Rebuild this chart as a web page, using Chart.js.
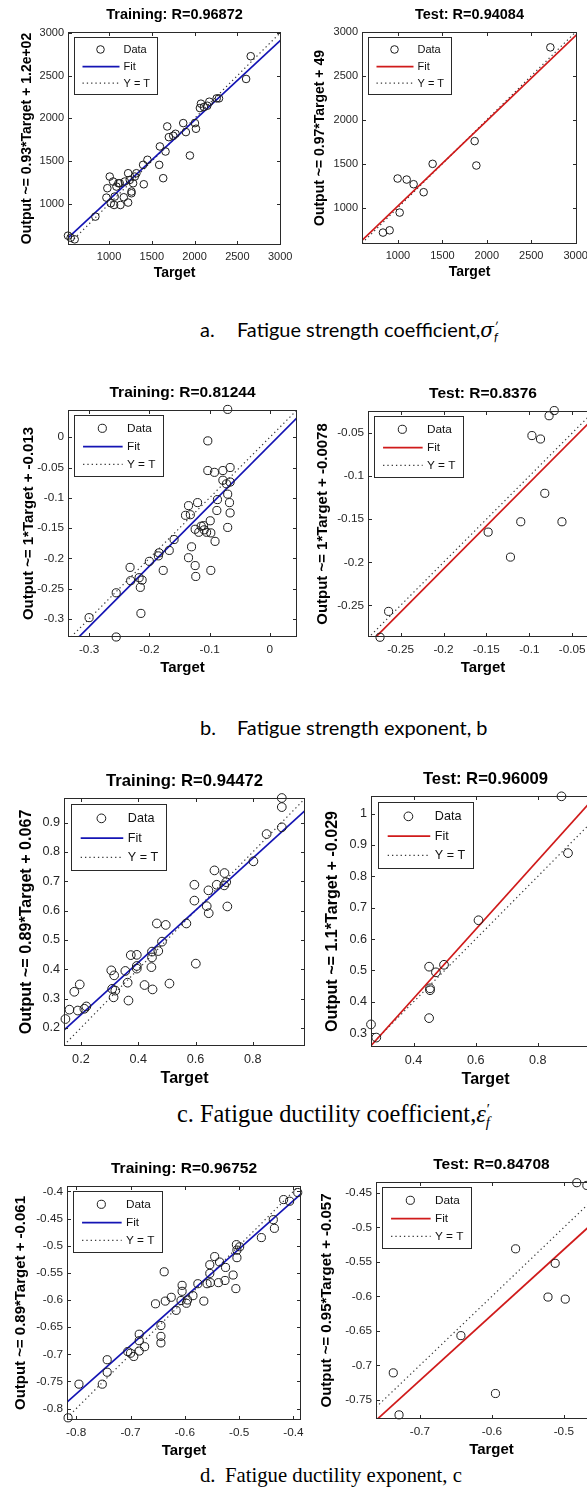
<!DOCTYPE html>
<html>
<head>
<meta charset="utf-8">
<title>Regression plots</title>
<script src="https://cdn.jsdelivr.net/npm/chart.js@4.4.1/dist/chart.umd.min.js"></script>
<style>
  html, body { margin: 0; padding: 0; background: #fff; }
  #page { position: relative; width: 587px; height: 1495px; overflow: hidden; background: #fff; }
  #page canvas { position: absolute; }
  .cap { position: absolute; white-space: nowrap; color: #000; line-height: 1; }
  .sans { font-family: Lato, "Open Sans", sans-serif; font-size: 20px; }
  .serif { font-family: "Liberation Serif", "DejaVu Serif", serif; font-size: 21px; }
  .sans .sym { font-family: "DejaVu Serif", "Liberation Serif", serif; font-style: italic; }
  .serif .sym { font-family: "Liberation Serif", serif; font-style: italic; }
  .ss { display: inline-block; vertical-align: -0.35em; font-size: 0.62em; line-height: 0.85; font-style: italic; }
  .ss span { display: block; }
</style>
</head>
<body>
<div id="page"></div>
<script>
// ---- data ----
// a. fatigue strength coefficient
const aTrainTarget = [520, 551, 598, 840, 1008, 980, 969, 1020, 1059, 1047, 1086, 1109, 1066, 1133, 1172, 1125, 1184, 1223, 1242, 1262, 1262, 1223, 1281, 1301, 1320, 1406, 1398, 1449, 1586, 1594, 1633, 1660, 1680, 1699, 1750, 1867, 1898, 1945, 2004, 2016, 2074, 2109, 2148, 2172, 2258, 2285, 2602, 2656, 2062, 1777];
const aTrainOutput = [629, 605, 586, 852, 1320, 1184, 1074, 1008, 988, 1262, 1203, 1242, 1086, 988, 1078, 1242, 1262, 1359, 1281, 1145, 1125, 1016, 1242, 1320, 1359, 1230, 1457, 1516, 1457, 1672, 1301, 1613, 1906, 1781, 1797, 1945, 1840, 1566, 1945, 1879, 2172, 2133, 2148, 2195, 2234, 2234, 2461, 2727, 2121, 1820];
const aTestTarget = [831, 906, 1019, 996, 1098, 1176, 1289, 1390, 1863, 1882, 2715];
const aTestOutput = [715, 741, 943, 1331, 1319, 1266, 1175, 1498, 1757, 1479, 2825];

// b. fatigue strength exponent
const bTrainTarget = [-0.070, -0.103, -0.103, -0.092, -0.078, -0.066, -0.078, -0.072, -0.066, -0.087, -0.070, -0.067, -0.066, -0.070, -0.088, -0.120, -0.135, -0.140, -0.132, -0.124, -0.114, -0.109, -0.105, -0.099, -0.098, -0.091, -0.098, -0.130, -0.135, -0.124, -0.123, -0.159, -0.167, -0.184, -0.185, -0.177, -0.200, -0.232, -0.231, -0.217, -0.215, -0.212, -0.255, -0.214, -0.300, -0.255, -0.118, -0.110];
const bTrainOutput = [0.046, -0.006, -0.055, -0.058, -0.055, -0.050, -0.071, -0.077, -0.074, -0.103, -0.094, -0.108, -0.125, -0.149, -0.121, -0.108, -0.113, -0.129, -0.128, -0.152, -0.147, -0.153, -0.157, -0.138, -0.158, -0.172, -0.220, -0.181, -0.199, -0.212, -0.230, -0.169, -0.187, -0.191, -0.196, -0.220, -0.205, -0.215, -0.237, -0.232, -0.248, -0.236, -0.257, -0.291, -0.298, -0.330, -0.157, -0.146];
const bTestTarget = [-0.274, -0.264, -0.148, -0.122, -0.110, -0.097, -0.087, -0.082, -0.077, -0.071, -0.062];
const bTestOutput = [-0.287, -0.257, -0.165, -0.194, -0.153, -0.053, -0.057, -0.120, -0.030, -0.024, -0.153];

// c. fatigue ductility coefficient
const cTrainTarget = [0.901, 0.901, 0.901, 0.848, 0.802, 0.666, 0.701, 0.674, 0.700, 0.707, 0.645, 0.711, 0.639, 0.646, 0.596, 0.596, 0.568, 0.601, 0.465, 0.496, 0.483, 0.470, 0.448, 0.448, 0.446, 0.450, 0.422, 0.509, 0.395, 0.374, 0.395, 0.395, 0.355, 0.366, 0.363, 0.316, 0.306, 0.320, 0.314, 0.309, 0.196, 0.177, 0.160, 0.189, 0.212, 0.219, 0.146];
const cTrainOutput = [0.984, 0.953, 0.884, 0.861, 0.768, 0.737, 0.728, 0.688, 0.686, 0.697, 0.669, 0.614, 0.615, 0.591, 0.688, 0.634, 0.556, 0.419, 0.556, 0.551, 0.494, 0.462, 0.460, 0.440, 0.407, 0.331, 0.346, 0.351, 0.449, 0.448, 0.411, 0.402, 0.394, 0.293, 0.354, 0.379, 0.396, 0.327, 0.304, 0.333, 0.348, 0.323, 0.262, 0.259, 0.265, 0.273, 0.230];
const cTestTarget = [0.876, 0.897, 0.609, 0.450, 0.472, 0.498, 0.453, 0.453, 0.450, 0.263, 0.280];
const cTestOutput = [1.055, 0.874, 0.660, 0.512, 0.494, 0.518, 0.443, 0.437, 0.348, 0.328, 0.286];

// d. fatigue ductility exponent
const dTrainTarget = [-0.392, -0.418, -0.407, -0.437, -0.435, -0.459, -0.505, -0.499, -0.504, -0.504, -0.506, -0.511, -0.526, -0.525, -0.536, -0.545, -0.538, -0.554, -0.554, -0.559, -0.553, -0.576, -0.565, -0.585, -0.595, -0.605, -0.605, -0.607, -0.597, -0.616, -0.625, -0.636, -0.638, -0.654, -0.644, -0.644, -0.644, -0.674, -0.684, -0.684, -0.684, -0.694, -0.700, -0.705, -0.743, -0.743, -0.752, -0.795, -0.815];
const dTrainOutput = [-0.402, -0.415, -0.418, -0.452, -0.468, -0.485, -0.498, -0.502, -0.508, -0.522, -0.579, -0.554, -0.564, -0.540, -0.530, -0.520, -0.568, -0.535, -0.551, -0.570, -0.568, -0.570, -0.602, -0.592, -0.600, -0.573, -0.584, -0.601, -0.606, -0.619, -0.595, -0.602, -0.548, -0.607, -0.647, -0.667, -0.679, -0.686, -0.663, -0.675, -0.694, -0.704, -0.698, -0.695, -0.710, -0.733, -0.755, -0.755, -0.817];
const dTestTarget = [-0.737, -0.729, -0.643, -0.595, -0.567, -0.522, -0.512, -0.498, -0.482, -0.468];
const dTestOutput = [-0.711, -0.772, -0.657, -0.741, -0.531, -0.601, -0.552, -0.604, -0.435, -0.439];

// fit lines: [slope, intercept]
const aTrainFit = [0.93, 120], aTestFit = [0.97, 49];
const bTrainFit = [1, -0.013], bTestFit = [1, -0.0078];
const cTrainFit = [0.89, 0.067], cTestFit = [1.1, -0.029];
const dTrainFit = [0.89, -0.061], dTestFit = [0.95, -0.057];

// axis limits [min, max]
const aTrainXLim = [520, 3010], aTrainYLim = [520, 3010];
const aTestXLim = [595, 3015], aTestYLim = [585, 3000];
const bTrainXLim = [-0.335, 0.045], bTrainYLim = [-0.33, 0.045];
const bTestXLim = [-0.288, -0.02], bTestYLim = [-0.2867, -0.0245];
const cTrainXLim = [0.141, 0.982], cTrainYLim = [0.138, 0.984];
const cTestXLim = [0.263, 1.0], cTestYLim = [0.256, 1.056];
const dTrainXLim = [-0.817, -0.386], dTrainYLim = [-0.821, -0.39];
const dTestXLim = [-0.761, -0.44], dTestYLim = [-0.778, -0.434];

// tick values
const aTicks = [1000, 1500, 2000, 2500, 3000];
const bTrainXTicks = [-0.3, -0.2, -0.1, 0];
const bTrainYTicks = [-0.3, -0.25, -0.2, -0.15, -0.1, -0.05, 0];
const bTestTicks = [-0.25, -0.2, -0.15, -0.1, -0.05];
const cTrainXTicks = [0.2, 0.4, 0.6, 0.8];
const cTrainYTicks = [0.2, 0.3, 0.4, 0.5, 0.6, 0.7, 0.8, 0.9];
const cTestXTicks = [0.4, 0.6, 0.8];
const cTestYTicks = [0.3, 0.4, 0.5, 0.6, 0.7, 0.8, 0.9, 1];
const dTrainXTicks = [-0.8, -0.7, -0.6, -0.5, -0.4];
const dTrainYTicks = [-0.8, -0.75, -0.7, -0.65, -0.6, -0.55, -0.5, -0.45, -0.4];
const dTestXTicks = [-0.7, -0.6, -0.5];
const dTestYTicks = [-0.75, -0.7, -0.65, -0.6, -0.55, -0.5, -0.45];

// ---- drawing ----
const FONT = '"Liberation Sans", Arial, sans-serif';
const BLUE = '#1414b4';
const RED = '#d01a1a';
Chart.defaults.font.family = FONT;

const page = document.getElementById('page');
const fmt = v => String(+Number(v).toFixed(4));

// MATLAB-ish box, inward ticks and legend inside the axes
const matlabAxes = {
  id: 'matlabAxes',
  afterDraw(chart, args, o) {
    const { ctx, chartArea: a, scales: { x, y } } = chart;
    const f = o.f;
    ctx.save();
    ctx.strokeStyle = '#2a2a2a';
    ctx.lineWidth = 1;
    const L = Math.round(a.left) + 0.5, R = Math.round(a.right) - 0.5;
    const T = Math.round(a.top) + 0.5, B = Math.round(a.bottom) - 0.5;
    ctx.strokeRect(L, T, R - L, B - T);
    const tl = 3.5;
    ctx.beginPath();
    x.ticks.forEach(t => {
      const px = Math.round(x.getPixelForValue(t.value)) + 0.5;
      ctx.moveTo(px, B); ctx.lineTo(px, B - tl);
      ctx.moveTo(px, T); ctx.lineTo(px, T + tl);
    });
    y.ticks.forEach(t => {
      const py = Math.round(y.getPixelForValue(t.value)) + 0.5;
      ctx.moveTo(L, py); ctx.lineTo(L + tl, py);
      ctx.moveTo(R, py); ctx.lineTo(R - tl, py);
    });
    ctx.stroke();

    // legend
    const lx = Math.round(a.left + 6 * f) + 0.5, ly = Math.round(a.top + 5 * f) + 0.5;
    const lw = Math.round(83 * f), lh = Math.round(57 * f);
    ctx.fillStyle = '#fff';
    ctx.fillRect(lx, ly, lw, lh);
    ctx.strokeStyle = '#2a2a2a';
    ctx.strokeRect(lx, ly, lw, lh);
    const rows = [0.21, 0.51, 0.8];
    ctx.font = `${(11 * f).toFixed(1)}px ${FONT}`;
    ctx.textBaseline = 'middle';
    ctx.textAlign = 'left';
    chart.data.datasets.forEach((d, i) => {
      const yy = ly + lh * rows[i];
      ctx.save();
      if (i === 0) {
        ctx.strokeStyle = d.pointBorderColor;
        ctx.lineWidth = 1;
        ctx.beginPath();
        ctx.arc(lx + 26 * f, yy, d.pointRadius, 0, Math.PI * 2);
        ctx.stroke();
      } else {
        ctx.strokeStyle = d.borderColor;
        ctx.lineWidth = d.borderWidth;
        ctx.setLineDash(d.borderDash || []);
        ctx.beginPath();
        ctx.moveTo(lx + 8 * f, yy);
        ctx.lineTo(lx + 45 * f, yy);
        ctx.stroke();
      }
      ctx.restore();
      ctx.fillStyle = '#111';
      ctx.fillText(d.label, lx + 49 * f, yy + 0.5);
    });
    ctx.restore();
  }
};

function panel(p) {
  const W = 62, TOP = 34, BOT = 44, RIGHT = 18;
  const L = Math.round(p.box[0] - W), T = Math.round(p.box[1] - TOP);
  const cw = Math.round(p.box[2] + RIGHT) - L, ch = Math.round(p.box[3] + BOT) - T;
  const cv = document.createElement('canvas');
  cv.width = cw; cv.height = ch;
  cv.style.left = L + 'px'; cv.style.top = T + 'px';
  cv.style.width = cw + 'px'; cv.style.height = ch + 'px';
  page.appendChild(cv);

  const f = p.f;
  const titleSize = 14.5 * f, titleLH = titleSize * 1.2;
  const labelSize = 14 * f, labelLH = labelSize * 1.2;
  const tickSize = 11 * f;
  const titlePad = 17 - titleLH / 2;
  const tickFont = { size: tickSize, family: FONT };
  const labelFont = { size: labelSize, weight: 'bold', family: FONT };
  const r = 3.8 * f;

  const points = p.x.map((v, i) => ({ x: v, y: p.y[i] }));
  const fitPts = p.xl.map(v => ({ x: v, y: p.fit[0] * v + p.fit[1] }));
  const idPts = p.xl.map(v => ({ x: v, y: v }));

  new Chart(cv, {
    type: 'scatter',
    data: {
      datasets: [
        { label: 'Data', data: points, pointStyle: 'circle', pointRadius: r, pointHoverRadius: r,
          pointBorderWidth: 1, pointBorderColor: '#1c1c1c', pointBackgroundColor: 'rgba(0,0,0,0)',
          borderColor: '#1c1c1c', showLine: false, clip: false },
        { label: 'Fit', data: fitPts, showLine: true, pointRadius: 0, borderColor: p.color, borderWidth: 1.7 },
        { label: 'Y = T', data: idPts, showLine: true, pointRadius: 0, borderColor: '#3a3a3a', borderWidth: 1.2,
          borderDash: [1.3, 3] }
      ]
    },
    options: {
      responsive: false,
      animation: false,
      devicePixelRatio: 1,
      events: [],
      layout: { padding: { left: 0, top: 0, right: RIGHT, bottom: 0 } },
      plugins: {
        legend: { display: false },
        tooltip: { enabled: false },
        title: { display: true, text: p.title, fullSize: false, color: '#000',
                 font: { size: titleSize, weight: 'bold', family: FONT },
                 padding: { top: titlePad, bottom: titlePad } },
        matlabAxes: { f: f }
      },
      scales: {
        x: {
          type: 'linear', min: p.xl[0], max: p.xl[1],
          afterBuildTicks: s => { s.ticks = p.xt.map(v => ({ value: v })); },
          afterFit: s => { s.height = BOT; s.paddingLeft = 0; s.paddingRight = 0; },
          grid: { display: false, drawTicks: false },
          border: { display: false },
          ticks: { font: tickFont, color: '#262626', padding: 12 * f - 0.6 * tickSize,
                   maxRotation: 0, autoSkip: false, callback: v => fmt(v) },
          title: { display: true, text: 'Target', color: '#000', font: labelFont,
                   padding: { top: 0, bottom: BOT - 28.5 * f - labelLH / 2 } }
        },
        y: {
          type: 'linear', min: p.yl[0], max: p.yl[1],
          afterBuildTicks: s => { s.ticks = p.yt.map(v => ({ value: v })); },
          afterFit: s => { s.width = W; s.paddingTop = 0; s.paddingBottom = 0; },
          grid: { display: false, drawTicks: false },
          border: { display: false },
          ticks: { font: tickFont, color: '#262626', padding: 4, autoSkip: false, callback: v => fmt(v) },
          title: { display: true, text: p.ylabel, color: '#000', font: labelFont,
                   padding: { top: W - p.gap - labelLH / 2, bottom: 0 } }
        }
      }
    },
    plugins: [matlabAxes]
  });
}

const panels = [
  { title: 'Training: R=0.96872', ylabel: 'Output ~= 0.93*Target + 1.2e+02', x: aTrainTarget, y: aTrainOutput,
    fit: aTrainFit, xl: aTrainXLim, yl: aTrainYLim, xt: aTicks, yt: aTicks, color: BLUE,
    box: [68, 32, 281, 245], f: 1, gap: 41 },
  { title: 'Test: R=0.94084', ylabel: 'Output ~= 0.97*Target + 49', x: aTestTarget, y: aTestOutput,
    fit: aTestFit, xl: aTestXLim, yl: aTestYLim, xt: aTicks, yt: aTicks, color: RED,
    box: [361.7, 32.3, 576.7, 244], f: 1, gap: 42 },
  { title: 'Training: R=0.81244', ylabel: 'Output ~= 1*Target + -0.013', x: bTrainTarget, y: bTrainOutput,
    fit: bTrainFit, xl: bTrainXLim, yl: bTrainYLim, xt: bTrainXTicks, yt: bTrainYTicks, color: BLUE,
    box: [68, 410, 297, 637], f: 1.07, gap: 39 },
  { title: 'Test: R=0.8376', ylabel: 'Output ~= 1*Target + -0.0078', x: bTestTarget, y: bTestOutput,
    fit: bTestFit, xl: bTestXLim, yl: bTestYLim, xt: bTestTicks, yt: bTestTicks, color: RED,
    box: [367.7, 410.7, 597.7, 636.7], f: 1.07, gap: 45 },
  { title: 'Training: R=0.94472', ylabel: 'Output ~= 0.89*Target + 0.067', x: cTrainTarget, y: cTrainOutput,
    fit: cTrainFit, xl: cTrainXLim, yl: cTrainYLim, xt: cTrainXTicks, yt: cTrainYTicks, color: BLUE,
    box: [63.6, 798.3, 305, 1046], f: 1.15, gap: 37 },
  { title: 'Test: R=0.96009', ylabel: 'Output ~= 1.1*Target + -0.029', x: cTestTarget, y: cTestOutput,
    fit: cTestFit, xl: cTestXLim, yl: cTestYLim, xt: cTestXTicks, yt: cTestYTicks, color: RED,
    box: [371, 796, 600, 1046.8], f: 1.15, gap: 38 },
  { title: 'Training: R=0.96752', ylabel: 'Output ~= 0.89*Target + -0.061', x: dTrainTarget, y: dTrainOutput,
    fit: dTrainFit, xl: dTrainXLim, yl: dTrainYLim, xt: dTrainXTicks, yt: dTrainYTicks, color: BLUE,
    box: [67.4, 1185.7, 301.4, 1420], f: 1.07, gap: 46 },
  { title: 'Test: R=0.84708', ylabel: 'Output ~= 0.95*Target + -0.057', x: dTestTarget, y: dTestOutput,
    fit: dTestFit, xl: dTestXLim, yl: dTestYLim, xt: dTestXTicks, yt: dTestYTicks, color: RED,
    box: [375.5, 1182.3, 607, 1419.2], f: 1.07, gap: 49 }
];
panels.forEach(panel);

// ---- captions ----
const prime = (s) => `<span class="sym">${s}</span><span class="ss"><span>′</span><span>f</span></span>`;

function caption(cls, mark, markLeft, text, left, cy, width, size) {
  const m = document.createElement('div');
  const t = document.createElement('div');
  m.className = t.className = 'cap ' + cls;
  m.textContent = mark;
  t.innerHTML = text;
  m.style.left = markLeft + 'px';
  t.style.left = left + 'px';
  page.appendChild(m); page.appendChild(t);
  let fs = size;
  if (width) {
    t.style.fontSize = size + 'px';
    fs = size * width / t.getBoundingClientRect().width;
  }
  [m, t].forEach(el => { el.style.fontSize = fs.toFixed(2) + 'px'; el.style.top = (cy - fs * 0.55) + 'px'; });
  return fs;
}

const sansSize = caption('sans', 'a.', 200, 'Fatigue strength coefficient,' + prime('σ'), 237, 331, 261, 20);
caption('sans', 'b.', 200, 'Fatigue strength exponent, b', 237, 729, 0, sansSize);
caption('serif', 'c.', 177, 'Fatigue ductility coefficient,' + prime('ε'), 200, 1115, 290, 21);
caption('serif', 'd.', 200, 'Fatigue ductility exponent, c', 225, 1476, 237, 21);
</script>
</body>
</html>
